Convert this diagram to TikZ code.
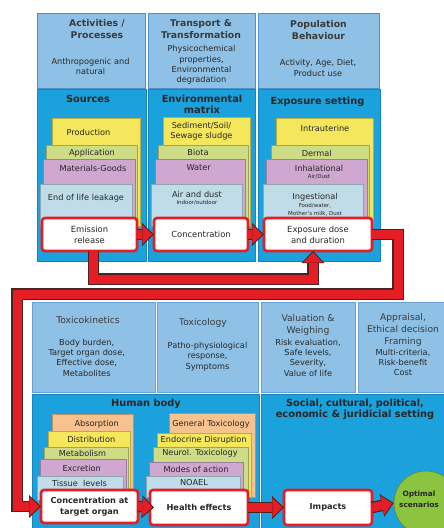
\documentclass[tikz,border=0pt]{standalone}
\usepackage{fontspec}
\setmainfont{DejaVu Sans}
\usetikzlibrary{arrows.meta,calc}
\definecolor{tblue}{HTML}{8FC1E6}
\definecolor{tbord}{HTML}{4F8FCB}
\definecolor{mblue}{HTML}{1BA1DC}
\definecolor{mbord}{HTML}{1585BF}
\definecolor{syel}{HTML}{F4E75B}
\definecolor{sgrn}{HTML}{CEDC85}
\definecolor{spur}{HTML}{CFA7D1}
\definecolor{slbl}{HTML}{BFDCE8}
\definecolor{sora}{HTML}{F8C28E}
\definecolor{bred}{HTML}{E51E26}
\definecolor{bandd}{HTML}{4A2323}
\definecolor{cgrn}{HTML}{8CC43F}
\definecolor{txtc}{HTML}{262626}
\definecolor{hdrc}{HTML}{3A3A3A}
\newcommand\rbox[7]{\node[#2, anchor=north west, inner sep=0pt, outer sep=0pt, minimum width={(#5-#3)*1pt}, minimum height={(#6-#4)*1pt}] (#1) at (#3,#4) {#7};}
\newcommand\tx[5]{\node[#2] (#1) at (#3,#4) {#5};}
\newcommand\redband[1]{\draw[bandO] #1; \draw[bandI] #1;}
\tikzset{
 topbox/.style={fill=tblue, draw=tbord, line width=0.9pt},
 lbox/.style={fill=tblue, draw=tbord!85, line width=0.7pt},
 midbox/.style={fill=mblue, draw=mbord, line width=0.5pt},
 lyr/.style={fill=#1, draw=#1!75!black, line width=0.4pt},
 wbox/.style={fill=white, draw=bred, line width=2.6pt, rounded corners=3pt, align=center, text=txtc, font=\fontsize{8.4}{11}\selectfont},
 wboxb/.style={wbox, font=\bfseries\fontsize{8.2}{11}\selectfont},
 body/.style={align=center, inner sep=0pt, text=txtc, font=\fontsize{8.2}{10.3}\selectfont},
 ttl/.style={align=center, inner sep=0pt, text=hdrc, font=\fontsize{9.2}{12}\selectfont},
 hd/.style={align=center, inner sep=0pt, text=hdrc, font=\bfseries\fontsize{9.3}{12}\selectfont},
 mhd/.style={align=center, inner sep=0pt, text=black!85, font=\bfseries\fontsize{9.8}{11}\selectfont},
 sm/.style={align=center, inner sep=0pt, text=txtc, font=\fontsize{5.5}{7.5}\selectfont},
 bandO/.style={line width=11.5pt, draw=bandd, line join=miter, -{Triangle[width=23pt,length=12pt,line width=0pt]}},
 bandI/.style={line width=9pt, draw=bred, line join=miter, shorten >=1.6pt, -{Triangle[width=19.5pt,length=10pt,line width=0pt]}},
}
\begin{document}
\begin{tikzpicture}[x=1pt,y=-1pt]
\useasboundingbox (0,0) rectangle (444,528);
\clip (0,0) rectangle (444,528);
\fill[white] (0,0) rectangle (444,528);
% ---------- upper panel: top row
\rbox{act}{topbox}{37}{13}{145}{88}{}
\rbox{trn}{topbox}{148}{13}{255}{88}{}
\rbox{pop}{topbox}{258}{13}{379}{88}{}
\tx{actT}{hd}{97}{29}{Activities /\\Processes}
\tx{actB}{body}{90.5}{66.5}{Anthropogenic and\\natural}
\tx{trnT}{hd}{201}{29.5}{Transport \&\\Transformation}
\tx{trnB}{body}{201.5}{65}{Physicochemical\\properties,\\Environmental\\degradation}
\tx{popT}{hd}{318.5}{30}{Population\\Behaviour}
\tx{popB}{body}{318}{68}{Activity, Age, Diet,\\Product use}
% ---------- upper panel: middle row
\rbox{src}{midbox}{37}{89.5}{146}{261}{}
\rbox{env}{midbox}{148}{89.5}{255}{261}{}
\rbox{exs}{midbox}{258}{89.5}{380}{261}{}
\tx{srcT}{mhd}{88}{98.5}{Sources}
\tx{envT}{mhd}{202}{104}{Environmental\\matrix}
\tx{exsT}{mhd}{317.5}{102}{Exposure setting}
% sources stack
\rbox{prod}{lyr=syel}{52}{118}{140}{226}{}
\rbox{appl}{lyr=sgrn}{46}{145}{137}{226}{}
\rbox{matg}{lyr=spur}{43}{159}{135}{226}{}
\rbox{eol}{lyr=slbl}{40}{184}{132}{226}{}
\tx{prodT}{body}{88.5}{132}{Production}
\tx{applT}{body}{92}{153}{Application}
\tx{matgT}{body}{93}{168}{Materials-Goods}
\tx{eolT}{body}{86}{198}{End of life leakage}
% environmental matrix stack
\rbox{sed}{lyr=syel}{163}{117}{250}{226}{}
\rbox{bio}{lyr=sgrn}{158}{145}{248}{226}{}
\rbox{wat}{lyr=spur}{155}{159}{245}{226}{}
\rbox{air}{lyr=slbl}{151}{184}{242}{226}{}
\tx{sedT}{body}{201.5}{131.5}{Sediment/Soil/\\Sewage sludge}
\tx{bioT}{body}{198}{152.5}{Biota}
\tx{watT}{body}{198.7}{168}{Water}
\tx{airT}{body}{197}{194}{Air and dust}
\tx{airS}{sm}{197}{203}{Indoor/outdoor}
% exposure stack
\rbox{intr}{lyr=syel}{276}{118}{373}{226}{}
\rbox{derm}{lyr=sgrn}{271}{145}{369}{226}{}
\rbox{inha}{lyr=spur}{266}{159}{367}{226}{}
\rbox{inge}{lyr=slbl}{263}{184}{363}{226}{}
\tx{intrT}{body}{325}{128}{Intrauterine}
\tx{dermT}{body}{316.7}{153}{Dermal}
\tx{inhaT}{body}{319}{168}{Inhalational}
\tx{inhaS}{sm}{319}{177}{Air/Dust}
\tx{ingeT}{body}{315}{197}{Ingestional}
\tx{ingeS}{sm}{315}{209.5}{Food/water,\\Mother's milk, Dust}
% white process nodes (upper)
\rbox{emis}{wbox}{42}{218}{137}{251}{Emission\\release}
\rbox{conc}{wbox}{154}{218}{248}{251}{Concentration}
\rbox{expo}{wbox}{264}{218}{372}{251}{Exposure dose\\and duration}
% ---------- lower panel: top row
\rbox{tk}{lbox}{32}{302}{155}{392}{}
\rbox{tox}{lbox}{157}{302}{258}{392}{}
\rbox{val}{lbox}{261}{302}{355}{392}{}
\rbox{apr}{lbox}{358}{302}{452}{392}{}
\tx{tkT}{ttl}{88}{320}{Toxicokinetics}
\tx{tkB}{body}{86.7}{357.5}{Body burden,\\Target organ dose,\\Effective dose,\\Metabolites}
\tx{toxT}{ttl}{203}{323}{Toxicology}
\tx{toxB}{body}{207.5}{356.5}{Patho-physiological\\response,\\Symptoms}
\tx{valT}{ttl}{308}{324.5}{Valuation \&\\Weighing}
\tx{valB}{body}{308}{357.5}{Risk evaluation,\\Safe levels,\\Severity,\\Value of life}
\tx{aprT}{ttl}{403}{329.5}{Appraisal,\\Ethical decision\\Framing}
\tx{aprB}{body}{403}{362.5}{Multi-criteria,\\Risk-benefit\\Cost}
% ---------- lower panel: dark row
\rbox{hb}{midbox}{32}{394}{259}{530}{}
\rbox{soc}{midbox}{261}{394}{452}{530}{}
\tx{hbT}{mhd}{146}{404}{Human body}
\tx{socT}{mhd}{355}{409.5}{Social, cultural, political,\\economic \& juridicial setting}
% toxicokinetic stack
\rbox{abs}{lyr=sora}{52}{414}{133}{500}{}
\rbox{dist}{lyr=syel}{48}{431}{130}{500}{}
\rbox{metab}{lyr=sgrn}{44}{447}{128}{500}{}
\rbox{excr}{lyr=spur}{40}{459}{126}{500}{}
\rbox{tis}{lyr=slbl}{37}{476}{123}{500}{}
\tx{absT}{body}{96.7}{424}{Absorption}
\tx{distT}{body}{91.3}{439}{Distribution}
\tx{metT}{body}{82.5}{453}{Metabolism}
\tx{excT}{body}{81.7}{468}{Excretion}
\tx{tisT}{body}{79.5}{483}{Tissue\ \ levels}
% toxicology stack
\rbox{gtox}{lyr=sora}{169}{413}{255}{497}{}
\rbox{endo}{lyr=syel}{157}{433}{251}{497}{}
\rbox{neur}{lyr=sgrn}{153}{447}{248}{497}{}
\rbox{moda}{lyr=spur}{149}{462}{243}{497}{}
\rbox{noael}{lyr=slbl}{146}{476}{240}{497}{}
\tx{gtoxT}{body}{211}{424}{General Toxicology}
\tx{endoT}{body}{203.7}{440}{Endocrine Disruption}
\tx{neurT}{body}{200}{453.5}{Neurol. Toxicology}
\tx{modaT}{body}{196}{469}{Modes of action}
\tx{noaelT}{body}{194}{483}{NOAEL}
% white process nodes (lower)
\rbox{targ}{wboxb}{41}{490}{138}{523}{Concentration at\\target organ}
\rbox{hlth}{wboxb}{150}{490}{248}{525}{Health effects}
\rbox{imp}{wboxb}{284}{490}{372}{525}{Impacts}
\node[circle, fill=cgrn, draw=cgrn!70!black, line width=0.6pt, minimum size=64pt, inner sep=0pt] (opt) at (426,503) {};
\node[align=center, inner sep=0pt, text=txtc, font=\bfseries\fontsize{7.4}{11}\selectfont] (optT) at (419,499) {Optimal\\scenarios};
% ---------- red band connectors
\coordinate (c1) at (398,294);
\coordinate (c2) at (17,294);
\redband{(emis.east) -- (conc.west)}
\redband{(conc.east) -- (expo.west)}
\redband{([xshift=4pt]emis.south) -- ++(0,28) -| ([xshift=-5pt]expo.south)}
\redband{(expo.east) -| (c1) -- (c2) |- (targ.west)}
\redband{(targ.east) -- ([xshift=4pt]hlth.west)}
\redband{(hlth.east) -- (imp.west)}
\redband{(imp.east) -- (opt.west)}
\end{tikzpicture}
\end{document}
